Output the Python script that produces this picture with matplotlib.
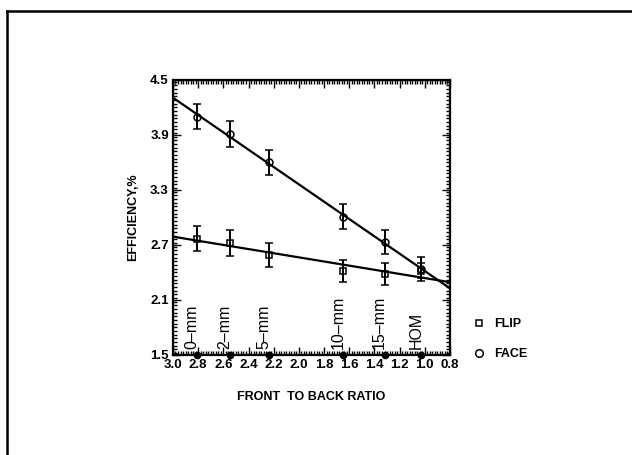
import numpy as np
import matplotlib
matplotlib.use("Agg")
from matplotlib import pyplot as plt
from matplotlib.ticker import MultipleLocator, FixedLocator
from matplotlib.lines import Line2D

# front-to-back ratio for each sample
ratio = [2.81, 2.55, 2.24, 1.65, 1.32, 1.03]
sample_names = ["0\u2013mm", "2\u2013mm", "5\u2013mm", "10\u2013mm", "15\u2013mm", "HOM"]

# efficiency, %
face_eff = [4.10, 3.91, 3.60, 3.01, 2.73, 2.44]
face_err = [0.14, 0.14, 0.14, 0.14, 0.13, 0.13]
flip_eff = [2.77, 2.72, 2.59, 2.42, 2.38, 2.42]
flip_err = [0.14, 0.14, 0.13, 0.12, 0.12, 0.08]

x_ticks = [3.0, 2.8, 2.6, 2.4, 2.2, 2.0, 1.8, 1.6, 1.4, 1.2, 1.0, 0.8]
y_ticks = [1.5, 2.1, 2.7, 3.3, 3.9, 4.5]

plt.rcParams['font.family'] = ['Liberation Sans Narrow', 'Liberation Sans', 'DejaVu Sans']

fig = plt.figure(figsize=(6.32, 4.55), dpi=100)
ax = fig.add_axes([0.2737, 0.2198, 0.4383, 0.6044])

# fitted lines over full axis range
xx = np.array([3.0, 0.8])
for y in (face_eff, flip_eff):
    k, b = np.polyfit(ratio, y, 1)
    ax.plot(xx, k * xx + b, color='black', lw=1.6)

ax.errorbar(ratio, face_eff, yerr=face_err, fmt='o', mfc='none', mec='black',
            ms=5, mew=1.1, ecolor='black', elinewidth=1.4, capsize=3, capthick=1.4)
ax.errorbar(ratio, flip_eff, yerr=flip_err, fmt='s', mfc='none', mec='black',
            ms=4, mew=1.1, ecolor='black', elinewidth=1.4, capsize=3, capthick=1.4)

# sample markers on the bottom axis
ax.plot(ratio, [1.5] * len(ratio), 'o', color='black', ms=4.5, clip_on=False, zorder=5)
for xv, name in zip(ratio, sample_names):
    ax.text(xv + 0.04, 1.56, name, rotation=90, ha='center', va='bottom',
            fontsize=11.5)

ax.set_xlim(3.0, 0.8)
ax.set_ylim(1.5, 4.5)
ax.xaxis.set_major_locator(FixedLocator(x_ticks))
ax.yaxis.set_major_locator(FixedLocator(y_ticks))
ax.xaxis.set_minor_locator(MultipleLocator(0.02))
ax.yaxis.set_minor_locator(MultipleLocator(0.04))
ax.set_xticklabels(["%.1f" % v for v in x_ticks], fontsize=9.5, fontweight='bold')
ax.set_yticklabels(["%.1f" % v for v in y_ticks], fontsize=9.5, fontweight='bold')
ax.tick_params(which='both', direction='in', top=True, right=True, width=1.0)
ax.tick_params(which='major', length=6, pad=3)
ax.tick_params(which='minor', length=3)
for s in ax.spines.values():
    s.set_linewidth(1.6)

ax.set_ylabel("EFFICIENCY,%", fontsize=9, fontweight='bold', labelpad=8)
ax.set_xlabel("FRONT  TO BACK RATIO", fontsize=9, fontweight='bold', labelpad=14)

# legend outside the axes
handles = [Line2D([], [], ls='none', marker='s', mfc='none', mec='black', ms=4.5, mew=1.1),
           Line2D([], [], ls='none', marker='o', mfc='none', mec='black', ms=5.5, mew=1.1)]
fig.legend(handles, ["FLIP", "FACE"], loc='upper left', bbox_to_anchor=(0.72, 0.325),
           frameon=False, handletextpad=0.2, labelspacing=1.4,
           prop={'weight': 'bold', 'size': 9})

# page border from the scan
fig.add_artist(Line2D([0.011, 1.0], [0.976, 0.976], color='black', lw=1.8, transform=fig.transFigure))
fig.add_artist(Line2D([0.011, 0.011], [0.976, 0.0], color='black', lw=1.8, transform=fig.transFigure))

fig.savefig("out.png", dpi=100)
